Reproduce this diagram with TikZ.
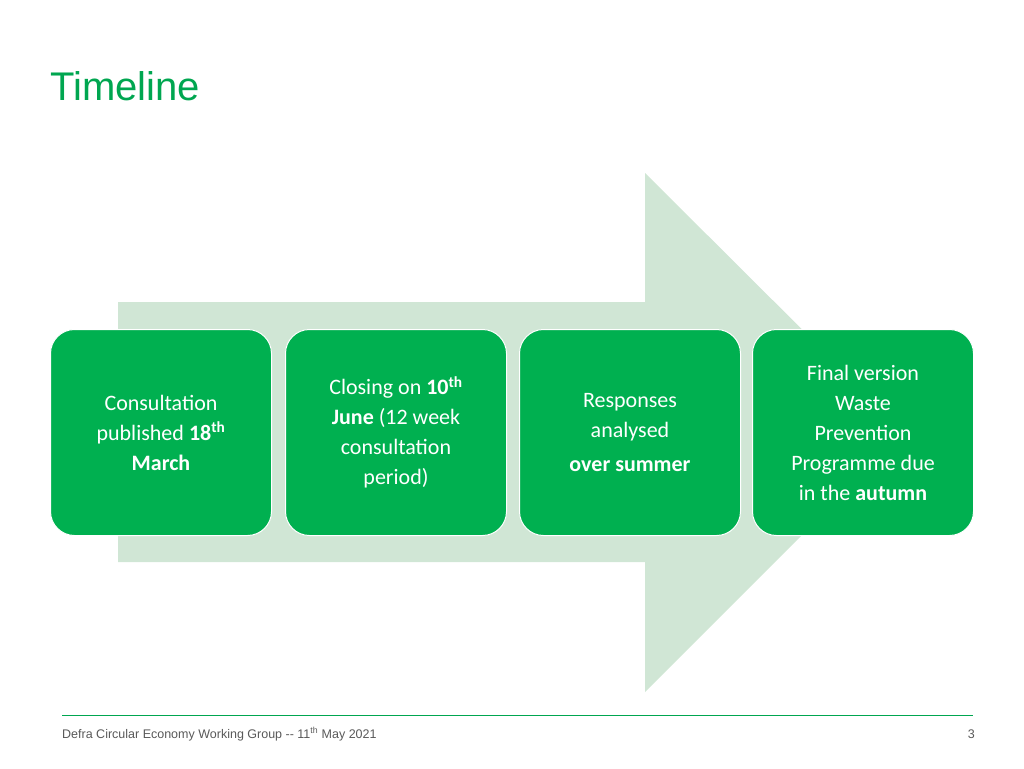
\documentclass[tikz,border=0pt]{standalone}
\usepackage{fontspec}
\setmainfont{Carlito}
\newfontfamily\arialf{Liberation Sans}
\definecolor{boxg}{HTML}{00B050}
\definecolor{arrg}{HTML}{D0E6D5}
\definecolor{titg}{HTML}{00A650}
\definecolor{footg}{HTML}{595959}
\begin{document}
\begin{tikzpicture}[x=1pt,y=-1pt,
  stepbox/.style={draw=white,line width=1pt,fill=boxg,rounded corners=24pt,minimum width=221pt,minimum height=206pt,anchor=north west,text=white,align=center,font=\fontsize{22}{30}\selectfont,inner sep=0pt}]
\useasboundingbox (0,0) rectangle (1024,768);
\fill[arrg] (118,302) -- (645,302) -- (645,173) -- (905,432) -- (645,692) -- (645,562) -- (118,562) -- cycle;
\node[anchor=base west,text=titg,font=\arialf\fontsize{40}{44}\selectfont,inner sep=0] (title) at (50,100) {Timeline};
\node[stepbox] (b1) at (50,329) {Consultation\\published \textbf{18\textsuperscript{th}}\\\textbf{March}};
\node[stepbox] (b2) at (285,329) {Closing on \textbf{10\textsuperscript{th}}\\\textbf{June} (12 week\\consultation\\period)};
\node[stepbox] (b3) at (519,329) {Responses\\analysed\\[4pt]\textbf{over summer}};
\node[stepbox] (b4) at (752,329) {Final version\\Waste\\Prevention\\Programme due\\in the \textbf{autumn}};
\draw[titg,line width=0.6pt] (62,715) coordinate (l1) -- (973,715) coordinate (l2);
\node[anchor=base west,text=footg,font=\arialf\fontsize{12.5}{14}\selectfont,inner sep=0] (foot) at (62,738) {Defra Circular Economy Working Group -- 11\textsuperscript{th} May 2021};
\node[anchor=base east,text=footg,font=\arialf\fontsize{12.5}{14}\selectfont,inner sep=0] (pg) at (975,738) {3};
\end{tikzpicture}
\end{document}
